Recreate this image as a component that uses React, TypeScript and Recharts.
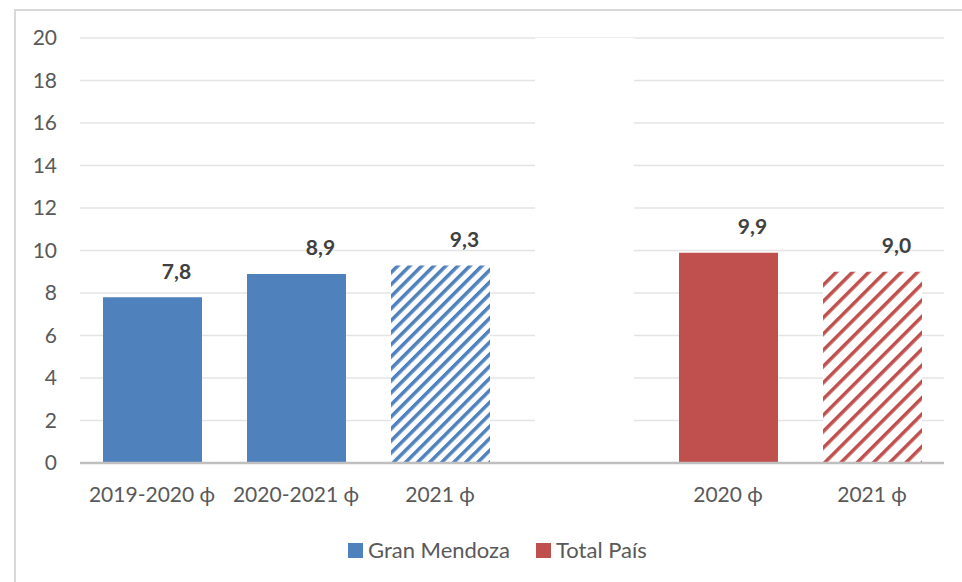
import { BarChart, Bar, XAxis, YAxis, CartesianGrid, LabelList, Cell } from 'recharts';

// categories (the empty one is the spacer between the two groups)
const categories = ['2019-2020 ϕ', '2020-2021 ϕ', '2021 ϕ', ' ', '2020 ϕ', '2021 ϕ'];
const granMendoza = [7.8, 8.9, 9.3, null, null, null];
const totalPais = [null, null, null, null, 9.9, 9.0];
const spacer = [null, null, null, 20, null, null];
const hatched = [false, false, true, false, false, true];
const yTicks = [0, 2, 4, 6, 8, 10, 12, 14, 16, 18, 20];

const BLUE = '#4f81bd';
const RED = '#c0504d';
const FONT = 'Lato, "Open Sans", sans-serif';

const chartData = categories.map((cat, i) => ({
  cat,
  mendoza: granMendoza[i],
  pais: totalPais[i],
  gap: spacer[i],
}));

const fmt = (v: number) => v.toFixed(1).replace('.', ',');

const renderLabel = (props: any) => {
  const { x, y, width } = props;
  let value = props.value;
  if (Array.isArray(value)) value = value[1];
  if (value == null || isNaN(Number(y))) return null;
  return (
    <text
      x={Number(x) + Number(width) / 2 + 24}
      y={Number(y) - 27}
      textAnchor="middle"
      dominantBaseline="central"
      fontFamily={FONT}
      fontSize={21}
      fontWeight={700}
      fill="#404040"
    >
      {fmt(Number(value))}
    </text>
  );
};

const legendItems = [
  { name: 'Gran Mendoza', color: BLUE },
  { name: 'Total País', color: RED },
];

export default function App() {
  return (
    <div style={{ position: 'absolute', left: 0, top: 0, width: 962, height: 582, background: '#fff' }}>
      <svg width={0} height={0} style={{ position: 'absolute' }}>
        <defs>
          <pattern id="hatchBlue" patternUnits="userSpaceOnUse" width={8.5} height={8.5} patternTransform="rotate(45)">
            <rect width={8.5} height={8.5} fill="#fff" />
            <rect width={3.5} height={8.5} fill={BLUE} />
          </pattern>
          <pattern id="hatchRed" patternUnits="userSpaceOnUse" width={11.5} height={11.5} patternTransform="rotate(45)">
            <rect width={11.5} height={11.5} fill="#fff" />
            <rect width={3.5} height={11.5} fill={RED} />
          </pattern>
        </defs>
      </svg>
      {/* frame: only left and top edges visible in the crop */}
      <div
        style={{
          position: 'absolute',
          left: 14,
          top: 9,
          width: 948,
          height: 573,
          borderLeft: '2px solid #d9d9d9',
          borderTop: '2px solid #d9d9d9',
        }}
      />
      <div style={{ position: 'absolute', left: 0, top: 0 }}>
        <BarChart
          width={962}
          height={582}
          data={chartData}
          margin={{ top: 38, right: 18, bottom: 89, left: 0 }}
        >
          <CartesianGrid vertical={false} stroke="#e4e4e4" strokeWidth={1.5} />
          <XAxis
            dataKey="cat"
            axisLine={{ stroke: '#bfbfbf', strokeWidth: 2.5 }}
            tickLine={false}
            tickSize={0}
            tickMargin={24}
            interval={0}
            tick={{ fill: '#595959', fontSize: 21, fontFamily: FONT }}
          />
          <YAxis
            width={80}
            domain={[0, 20]}
            ticks={yTicks}
            axisLine={false}
            tickLine={false}
            tickSize={0}
            tickMargin={23}
            tick={{ fill: '#595959', fontSize: 21, fontFamily: FONT }}
          />
          <Bar dataKey="gap" stackId="a" fill="#fff" barSize={99} legendType="none" isAnimationActive={false} />
          <Bar dataKey="mendoza" name="Gran Mendoza" stackId="a" fill={BLUE} barSize={99} isAnimationActive={false}>
            {chartData.map((_, i) => (
              <Cell key={i} fill={hatched[i] ? 'url(#hatchBlue)' : BLUE} />
            ))}
            <LabelList dataKey="mendoza" content={renderLabel} />
          </Bar>
          <Bar dataKey="pais" name="Total País" stackId="a" fill={RED} barSize={99} isAnimationActive={false}>
            {chartData.map((_, i) => (
              <Cell key={i} fill={hatched[i] ? 'url(#hatchRed)' : RED} />
            ))}
            <LabelList dataKey="pais" content={renderLabel} />
          </Bar>
        </BarChart>
      </div>
      {/* legend */}
      <div
        style={{
          position: 'absolute',
          left: 348,
          top: 537,
          display: 'flex',
          gap: 26,
          fontFamily: FONT,
          fontSize: 22,
          lineHeight: '26px',
          color: '#595959',
        }}
      >
        {legendItems.map((it) => (
          <span key={it.name} style={{ display: 'flex', alignItems: 'center', gap: 5 }}>
            <span style={{ width: 15, height: 15, background: it.color, display: 'inline-block' }} />
            {it.name}
          </span>
        ))}
      </div>
    </div>
  );
}
